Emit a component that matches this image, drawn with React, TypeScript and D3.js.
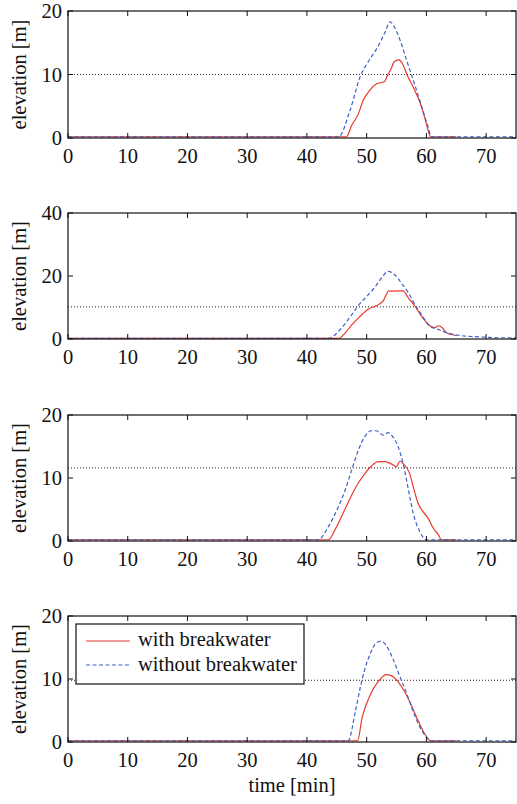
import React from 'react';
import * as d3 from 'd3';

const W = 517;
const H = 804;
const TXT: React.CSSProperties = { fontFamily: 'Liberation Serif', fontSize: '20.5px', fill: '#111' };
const RED = '#ea3a30';
const BLUE = '#3f60c8';

const X_TICKS = [0, 10, 20, 30, 40, 50, 60, 70];

// panel 1
const p1With: [number, number][] = [
    [0, 0.2], [46.6, 0.2], [47.5, 2.0], [48.6, 3.8], [49.4, 5.9], [50.5, 7.5], [51.6, 8.5], [53.0, 8.9],
    [53.5, 9.9], [54.1, 10.9], [54.6, 12.0], [55.4, 12.3], [56.0, 11.7], [56.8, 9.9], [57.9, 7.8],
    [59.0, 5.4], [59.6, 3.6], [60.2, 1.5], [60.7, 0.2], [65, 0.2],
];
const p1Without: [number, number][] = [
    [0, 0.2], [45.3, 0.2], [47.2, 4.3], [48.9, 9.6], [50.6, 12.5], [51.7, 14.1], [53.1, 16.7], [53.9, 18.3],
    [54.5, 17.7], [55.6, 15.4], [56.7, 12.2], [57.8, 9.1], [58.9, 5.9], [60.1, 2.3], [60.9, 0.2], [75, 0.2],
];

// panel 2
const p2With: [number, number][] = [
    [0, 0.2], [45.3, 0.2], [46.4, 1.9], [47.5, 4.5], [48.9, 7.2], [50.3, 9.5], [51.7, 10.6], [52.8, 12.2],
    [53.3, 14.1], [53.6, 15.2], [56.1, 15.3], [57.0, 13.0], [58.1, 10.4], [59.2, 7.2], [60.6, 4.2],
    [61.4, 3.6], [62.0, 4.2], [62.7, 3.5], [63.3, 2.1], [64.7, 1.2], [65, 1.1],
];
const p2Without: [number, number][] = [
    [0, 0.2], [43.6, 0.2], [45.8, 3.5], [47.5, 7.7], [48.6, 10.6], [50.0, 13.5], [51.4, 16.5], [52.5, 19.4],
    [53.6, 21.5], [54.7, 20.4], [55.8, 17.8], [57.0, 14.6], [58.1, 10.9], [59.2, 7.7], [60.6, 4.0],
    [62.0, 3.0], [63.6, 1.9], [65.3, 1.2], [67.5, 0.8], [69.7, 0.6], [71.9, 0.4], [75, 0.4],
];

// panel 3
const p3With: [number, number][] = [
    [0, 0.2], [43.6, 0.2], [44.7, 1.8], [45.8, 3.9], [47.5, 7.3], [48.6, 9.2], [49.7, 10.7], [50.8, 11.9],
    [51.9, 12.6], [53.1, 12.6], [54.2, 12.2], [55.0, 11.8], [55.6, 12.7], [56.1, 12.3], [57.2, 10.7],
    [57.8, 8.6], [58.6, 6.0], [59.4, 4.7], [60.3, 3.6], [61.1, 2.1], [62.0, 1.0], [62.5, 0.2], [65, 0.2],
];
const p3Without: [number, number][] = [
    [0, 0.2], [41.9, 0.2], [43.6, 2.3], [45.3, 5.5], [46.4, 8.1], [47.5, 11.3], [48.6, 14.4], [49.7, 16.6],
    [50.8, 17.5], [51.6, 17.5], [52.8, 16.8], [53.6, 17.2], [54.4, 16.5], [55.3, 14.9], [56.1, 12.3],
    [57.0, 8.1], [57.8, 4.4], [58.9, 1.5], [60.0, 0.2], [75, 0.2],
];

// panel 4
const p4With: [number, number][] = [
    [0, 0.2], [48.5, 0.2], [49.2, 3.7], [50.0, 6.1], [50.8, 7.9], [51.7, 9.3], [52.5, 10.2], [53.2, 10.7],
    [54.2, 10.5], [55.3, 9.5], [56.4, 7.9], [57.5, 5.8], [58.6, 3.4], [59.7, 1.3], [60.7, 0.2], [65, 0.2],
];
const p4Without: [number, number][] = [
    [0, 0.2], [46.9, 0.2], [48.1, 4.8], [48.9, 8.5], [49.7, 11.6], [50.6, 14.0], [51.4, 15.5], [52.4, 16.0],
    [53.3, 15.3], [54.4, 13.2], [55.6, 10.3], [56.7, 7.7], [57.8, 4.8], [58.9, 2.4], [60.0, 0.8], [60.6, 0.2],
    [75, 0.2],
];

const PANELS = [
    { top: 11, bottom: 138, yMax: 20, yTicks: [0, 10, 20], level: 10, withBw: p1With, withoutBw: p1Without },
    { top: 213, bottom: 339, yMax: 40, yTicks: [0, 20, 40], level: 10.2, withBw: p2With, withoutBw: p2Without },
    { top: 415, bottom: 541, yMax: 20, yTicks: [0, 10, 20], level: 11.6, withBw: p3With, withoutBw: p3Without },
    { top: 616, bottom: 742, yMax: 20, yTicks: [0, 10, 20], level: 9.8, withBw: p4With, withoutBw: p4Without },
];

const LEFT = 68;
const RIGHT = 516;

function Panel({ p, legend }: { p: typeof PANELS[0]; legend: boolean }) {
    const x = d3.scaleLinear().domain([0, 75]).range([LEFT, RIGHT]);
    const y = d3.scaleLinear().domain([0, p.yMax]).range([p.bottom, p.top]);
    const line = d3.line<[number, number]>()
        .x(d => x(d[0]))
        .y(d => y(d[1]))
        .curve(d3.curveMonotoneX);
    const tk = 5;
    return (
        <g>
            <line x1={LEFT} x2={RIGHT} y1={y(p.level)} y2={y(p.level)}
                stroke="#222" strokeWidth={1} strokeDasharray="1,2" />
            <path d={line(p.withBw) || ''} fill="none" stroke={RED} strokeWidth={1.2} />
            <path d={line(p.withoutBw) || ''} fill="none" stroke={BLUE} strokeWidth={1.2} strokeDasharray="4,2.5" />
            <rect x={LEFT} y={p.top} width={RIGHT - LEFT} height={p.bottom - p.top}
                fill="none" stroke="#111" strokeWidth={1.2} />
            {X_TICKS.map(t => (
                <g key={t}>
                    <line x1={x(t)} x2={x(t)} y1={p.bottom} y2={p.bottom - tk} stroke="#111" />
                    <line x1={x(t)} x2={x(t)} y1={p.top} y2={p.top + tk} stroke="#111" />
                    <text x={x(t)} y={p.bottom + 25} textAnchor="middle" style={TXT}>{t}</text>
                </g>
            ))}
            {p.yTicks.map(t => (
                <g key={t}>
                    <line x1={LEFT} x2={LEFT + tk} y1={y(t)} y2={y(t)} stroke="#111" />
                    <line x1={RIGHT} x2={RIGHT - tk} y1={y(t)} y2={y(t)} stroke="#111" />
                    <text x={62} y={y(t) + 7} textAnchor="end" style={TXT}>{t}</text>
                </g>
            ))}
            <text transform={`translate(26, ${(p.top + p.bottom) / 2}) rotate(-90)`} textAnchor="middle"
                style={TXT}>elevation [m]</text>
            {legend && (
                <g>
                    <rect x={76} y={624} width={228} height={60} fill="#fff" stroke="#111" strokeWidth={1.2} />
                    <line x1={86} x2={130} y1={641} y2={641} stroke={RED} strokeWidth={1.2} />
                    <line x1={86} x2={130} y1={665} y2={665} stroke={BLUE} strokeWidth={1.2} strokeDasharray="4,2.5" />
                    <text x={138} y={646} style={TXT}>with breakwater</text>
                    <text x={138} y={671} style={TXT}>without breakwater</text>
                </g>
            )}
        </g>
    );
}

export default function App() {
    return (
        <svg width={W} height={H} style={{ position: 'absolute', left: 0, top: 0, background: '#fff' }}>
            {PANELS.map((p, i) => <Panel key={i} p={p} legend={i === 3} />)}
            <text x={(LEFT + RIGHT) / 2} y={792} textAnchor="middle" style={TXT}>time [min]</text>
        </svg>
    );
}
